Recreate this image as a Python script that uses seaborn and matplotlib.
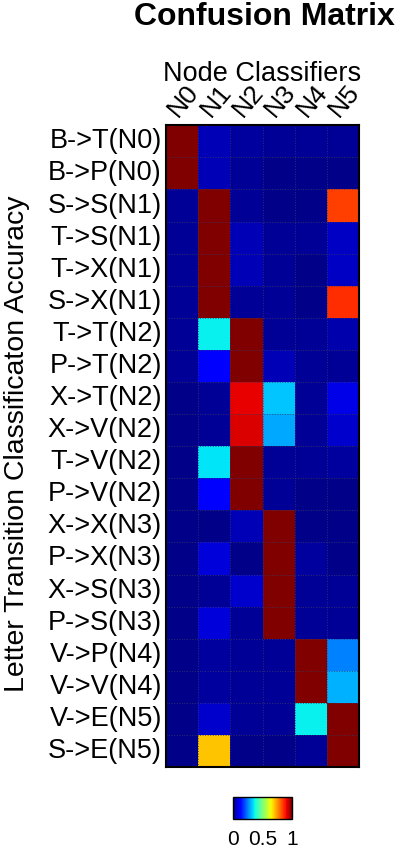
import numpy as np
import pandas as pd
import matplotlib
matplotlib.use("Agg")
import matplotlib.pyplot as plt
import matplotlib.transforms as mtransforms
import seaborn as sns

# Node classifiers (columns) and letter transitions (rows)
classifiers = ["N0", "N1", "N2", "N3", "N4", "N5"]
transitions = ["B->T(N0)", "B->P(N0)", "S->S(N1)", "T->S(N1)", "T->X(N1)",
               "S->X(N1)", "T->T(N2)", "P->T(N2)", "X->T(N2)", "X->V(N2)",
               "T->V(N2)", "P->V(N2)", "X->X(N3)", "P->X(N3)", "X->S(N3)",
               "P->S(N3)", "V->P(N4)", "V->V(N4)", "V->E(N5)", "S->E(N5)"]

# accuracy values
acc_n0 = [1.00, 1.00, 0.02, 0.02, 0.02, 0.02, 0.02, 0.02, 0.01, 0.01,
          0.01, 0.01, 0.01, 0.01, 0.01, 0.01, 0.01, 0.01, 0.01, 0.01]
acc_n1 = [0.05, 0.05, 1.00, 1.00, 1.00, 1.00, 0.36, 0.12, 0.02, 0.02,
          0.35, 0.12, 0.01, 0.08, 0.02, 0.08, 0.03, 0.03, 0.07, 0.70]
acc_n2 = [0.03, 0.02, 0.02, 0.05, 0.05, 0.02, 1.00, 1.00, 0.91, 0.92,
          1.00, 1.00, 0.05, 0.01, 0.07, 0.02, 0.02, 0.02, 0.02, 0.01]
acc_n3 = [0.02, 0.01, 0.01, 0.02, 0.02, 0.02, 0.02, 0.05, 0.32, 0.29,
          0.02, 0.02, 1.00, 1.00, 1.00, 1.00, 0.02, 0.02, 0.02, 0.01]
acc_n4 = [0.02, 0.01, 0.01, 0.02, 0.01, 0.01, 0.02, 0.02, 0.02, 0.02,
          0.02, 0.01, 0.01, 0.03, 0.02, 0.02, 1.00, 1.00, 0.36, 0.02]
acc_n5 = [0.02, 0.01, 0.84, 0.06, 0.06, 0.86, 0.04, 0.02, 0.09, 0.07,
          0.03, 0.01, 0.01, 0.01, 0.02, 0.02, 0.25, 0.30, 1.00, 1.00]

df = pd.DataFrame({"N0": acc_n0, "N1": acc_n1, "N2": acc_n2,
                   "N3": acc_n3, "N4": acc_n4, "N5": acc_n5},
                  index=transitions)[classifiers]

sns.set_style("white")
plt.rcParams['font.family'] = ['Liberation Sans', 'DejaVu Sans']
plt.rcParams['text.color'] = 'black'
plt.rcParams['axes.labelcolor'] = 'black'
plt.rcParams['xtick.color'] = 'black'
plt.rcParams['ytick.color'] = 'black'

fig = plt.figure(figsize=(4, 8.5), dpi=100)
ax = fig.add_axes([0.415, 0.0976, 0.4825, 0.755])
cax = fig.add_axes([0.5825, 0.0365, 0.1475, 0.0259])

sns.heatmap(df, ax=ax, cmap="jet", vmin=0, vmax=1, cbar_ax=cax,
            cbar_kws={"orientation": "horizontal", "ticks": [0, 0.5, 1]})

# faint dotted cell borders
for y in range(1, len(transitions)):
    ax.axhline(y, color="#3a3a66", lw=0.7, ls=":", alpha=0.8)
for x in range(1, len(classifiers)):
    ax.axvline(x, color="#3a3a66", lw=0.7, ls=":", alpha=0.8)

for sp in ax.spines.values():
    sp.set_visible(True)
    sp.set_color("black")
    sp.set_linewidth(1.5)

ax.xaxis.tick_top()
ax.set_xticklabels(classifiers, rotation=50, ha="left", va="bottom",
                   rotation_mode="anchor", fontsize=19)
shift = mtransforms.ScaledTranslation(0.12, 0, fig.dpi_scale_trans)
for lab in ax.get_xticklabels():
    lab.set_transform(lab.get_transform() + shift)
ax.set_yticklabels(transitions, rotation=0, fontsize=19.5)
ax.tick_params(axis="both", length=0, pad=3)
ax.set_xlabel("")
ax.set_ylabel("Letter Transition Classificaton Accuracy", fontsize=20.5)
ax.yaxis.set_label_coords(-0.705, 0.503)

cbar = ax.collections[0].colorbar
cbar.ax.set_xticklabels(["0", "0.5", "1"], fontsize=15)
cbar.ax.tick_params(length=0, pad=8)
cbar.outline.set_edgecolor("black")
cbar.outline.set_linewidth(1)

fig.text(0.655, 1 - 74 / 850, "Node Classifiers", ha="center", va="center",
         fontsize=19.5)
fig.text(0.66, 1 - 17 / 850, "Confusion Matrix", ha="center", va="center",
         fontsize=23, fontweight="bold")

fig.savefig("out.png", dpi=100)
